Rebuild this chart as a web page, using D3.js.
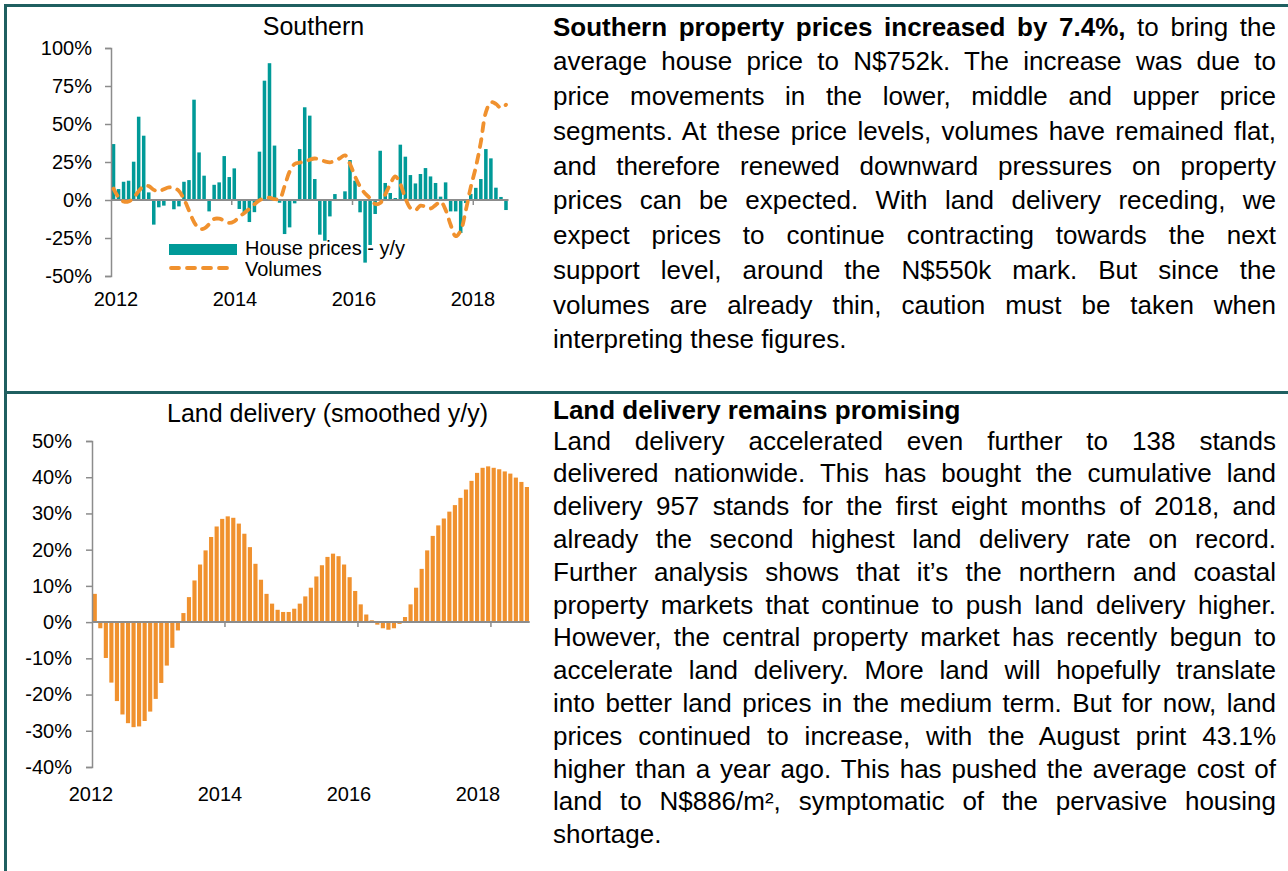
<!DOCTYPE html>
<html>
<head>
<meta charset="utf-8">
<script src="https://cdn.jsdelivr.net/npm/d3@7"></script>
<style>
  body { margin: 0; background: #fff; font-family: Arial, "Liberation Sans", sans-serif; }
  #page { position: relative; width: 1288px; height: 871px; overflow: hidden; background: #fff; }
  #page svg { position: absolute; left: 0; top: 0; }
  .line { position: absolute; left: 553px; width: 723px; font-size: 26px; line-height: 34px;
          white-space: nowrap; text-align: justify; text-align-last: justify; color: #000; }
  .line.last { text-align-last: left; }
</style>
</head>
<body>
<div id="page"></div>
<script>
// ---- data (monthly, Jan 2012 .. Jul 2018) ----
const months = d3.timeMonth.range(new Date(2012, 0, 1), new Date(2018, 7, 1));
const yearTicks = ['2012', '2014', '2016', '2018'];

// Southern house prices y/y, %
const housePrices = [36.8, 7.2, 12.0, 12.7, 25.2, 54.8, 42.3, 5.0, -16.2, -4.8, -3.7, 0.3,
  -6.1, -4.2, 12.0, 13.1, 66.0, 31.3, 16.0, -7.5, 10.0, 11.6, 28.9, 15.1,
  20.8, -5.9, -8.6, -14.5, -8.0, 31.8, 78.5, 90.0, 35.8, -1.8, -22.4, -18.0,
  -2.2, 33.5, 61.0, 55.5, 13.8, -22.8, -26.8, -10.8, 3.9, 0.3, 5.7, 26.3,
  12.7, -8.1, -41.2, -29.6, -9.2, 32.4, 11.2, 4.6, 1.3, 36.4, 28.5, 16.4,
  10.9, 17.1, 21.0, 15.5, 11.2, 2.2, 11.6, -7.5, -7.5, -21.7, -2.0, 4.0,
  8.0, 13.8, 33.5, 27.4, 8.1, 2.0, -6.6];

// Southern volumes y/y, %
const volumes = [7.5, 1.8, -1.0, -1.0, 1.5, 5.8, 9.1, 9.1, 6.7, 5.6, 7.1, 8.3,
  8.1, 5.9, 0.6, -7.0, -14.5, -18.8, -18.8, -15.9, -12.5, -12.3, -13.6, -15.1,
  -14.0, -11.0, -8.5, -5.7, -2.8, -0.2, 1.1, 1.5, 0.6, 0.7, 9.1, 18.7,
  23.7, 24.6, 25.0, 26.5, 27.3, 26.6, 25.4, 24.8, 25.9, 27.5, 29.4, 23.7,
  15.5, 8.8, 4.2, 1.1, -2.6, -2.0, 3.6, 10.5, 15.5, 10.5, 1.2, -5.3,
  -6.7, -3.7, -4.4, -5.6, -3.4, -1.0, -6.5, -16.3, -23.8, -20.1, -7.0, 8.5,
  21.5, 38.0, 57.7, 64.3, 63.2, 60.5, 62.7];

// Land delivery, smoothed y/y, %
const landDelivery = [7.8, -1.7, -9.9, -16.7, -21.8, -25.5, -27.9, -29.0, -28.8, -27.3, -24.7, -21.2,
  -16.8, -12.0, -7.1, -2.3, 2.5, 6.9, 11.5, 15.9, 19.8, 23.5, 26.4, 28.5,
  29.2, 28.8, 27.2, 24.4, 20.7, 16.1, 11.7, 7.8, 5.1, 3.4, 2.8, 2.8,
  3.7, 5.1, 7.1, 9.5, 12.6, 15.7, 18.0, 18.9, 18.2, 15.9, 12.4, 8.6,
  4.9, 2.1, 0.5, -0.7, -1.7, -2.1, -1.7, -0.5, 1.4, 4.9, 9.5, 14.7,
  19.8, 23.8, 26.7, 28.6, 30.5, 32.3, 34.3, 36.6, 39.0, 41.2, 42.6, 43.0,
  42.6, 42.2, 41.6, 41.0, 39.9, 38.7, 37.3];

const topTicksY = [-50, -25, 0, 25, 50, 75, 100];
const bottomTicksY = [-40, -30, -20, -10, 0, 10, 20, 30, 40, 50];

const topText = [
  ['<b>Southern property prices increased by 7.4%,</b> to bring the', false],
  ['average house price to N$752k. The increase was due to', false],
  ['price movements in the lower, middle and upper price', false],
  ['segments. At these price levels, volumes have remained flat,', false],
  ['and therefore renewed downward pressures on property', false],
  ['prices can be expected. With land delivery receding, we', false],
  ['expect prices to continue contracting towards the next', false],
  ['support level, around the N$550k mark. But since the', false],
  ['volumes are already thin, caution must be taken when', false],
  ['interpreting these figures.', true]
];
const bottomText = [
  ['Land delivery accelerated even further to 138 stands', false],
  ['delivered nationwide. This has bought the cumulative land', false],
  ['delivery 957 stands for the first eight months of 2018, and', false],
  ['already the second highest land delivery rate on record.', false],
  ['Further analysis shows that it\u2019s the northern and coastal', false],
  ['property markets that continue to push land delivery higher.', false],
  ['However, the central property market has recently begun to', false],
  ['accelerate land delivery. More land will hopefully translate', false],
  ['into better land prices in the medium term. But for now, land', false],
  ['prices continued to increase, with the August print 43.1%', false],
  ['higher than a year ago. This has pushed the average cost of', false],
  ['land to N$886/m\u00b2, symptomatic of the pervasive housing', false],
  ['shortage.', true]
];

const TEAL = '#009a98';
const ORANGE = '#f0912e';
const BORDER = '#1f5f60';
const AXIS = '#8c8c8c';

const page = d3.select('#page');
const svg = page.append('svg').attr('width', 1288).attr('height', 871);

// frame lines
svg.append('rect').attr('x', 4).attr('y', 4).attr('width', 1284).attr('height', 3).attr('fill', BORDER);
svg.append('rect').attr('x', 4).attr('y', 4).attr('width', 3).attr('height', 867).attr('fill', BORDER);
svg.append('rect').attr('x', 4).attr('y', 391).attr('width', 1284).attr('height', 3).attr('fill', BORDER);

function drawPanel(opt) {
  const g = svg.append('g');
  const x = d3.scaleBand().domain(months).range(opt.xRange)
    .paddingInner(opt.pad).paddingOuter(opt.pad / 2);
  const y = d3.scaleLinear().domain(opt.yDomain).range(opt.yRange);
  const cx = m => x(m) + x.bandwidth() / 2;
  const edge = m => cx(m) - x.step() / 2;

  // title
  g.append('text').attr('x', opt.titleX).attr('y', opt.titleY)
    .attr('text-anchor', 'middle').attr('font-size', 25).attr('fill', '#000').text(opt.title);

  // bars
  g.append('g').selectAll('rect').data(opt.bars).enter().append('rect')
    .attr('x', (d, i) => x(months[i]))
    .attr('y', d => y(Math.max(0, d)))
    .attr('width', x.bandwidth())
    .attr('height', d => Math.abs(y(d) - y(0)))
    .attr('fill', opt.barColor);

  // y axis
  const ya = g.append('g').attr('transform', `translate(${opt.xRange[0]},0)`)
    .call(d3.axisLeft(y).tickValues(opt.yTicks).tickFormat(d => d + '%')
      .tickSize(6).tickPadding(opt.tickPad));
  ya.select('.domain').attr('stroke', AXIS).attr('stroke-width', 1.5);
  ya.selectAll('.tick line').attr('stroke', AXIS).attr('stroke-width', 1.5);
  ya.selectAll('.tick text').attr('font-size', 20).attr('font-family', 'Arial, "Liberation Sans", sans-serif').attr('fill', '#000');

  // zero line + year ticks
  g.append('line').attr('x1', opt.xRange[0]).attr('x2', opt.xRange[1])
    .attr('y1', y(0)).attr('y2', y(0)).attr('stroke', AXIS).attr('stroke-width', 2);
  const tickMonths = yearTicks.map(t => new Date(+t, 0, 1));
  g.append('g').selectAll('line').data(tickMonths.slice(1)).enter().append('line')
    .attr('x1', m => edge(m)).attr('x2', m => edge(m))
    .attr('y1', y(0)).attr('y2', y(0) + 5).attr('stroke', AXIS).attr('stroke-width', 1.5);

  const lx = d3.scalePoint().domain(yearTicks).range(opt.labelRange);
  g.append('g').selectAll('text').data(yearTicks).enter().append('text')
    .attr('x', d => lx(d)).attr('y', opt.labelY).attr('text-anchor', 'middle')
    .attr('font-size', 20).attr('fill', '#000').text(d => d);

  return { x, y, cx, g };
}

// ---- Southern panel ----
const p1 = drawPanel({
  xRange: [111, 508.5], yRange: [276, 48], yDomain: [-50, 100], yTicks: topTicksY,
  pad: 0.3, bars: housePrices, barColor: TEAL, tickPad: 13,
  title: 'Southern', titleX: 313.5, titleY: 35,
  labelRange: [116, 473], labelY: 306
});

p1.g.append('path').datum(volumes)
  .attr('d', d3.line().x((d, i) => p1.cx(months[i])).y(d => p1.y(d)).curve(d3.curveCatmullRom.alpha(0.5)))
  .attr('fill', 'none').attr('stroke', ORANGE).attr('stroke-width', 3.8)
  .attr('stroke-dasharray', '8,8').attr('stroke-linecap', 'round');

// legend
const leg = p1.g.append('g');
leg.append('rect').attr('x', 169).attr('y', 244).attr('width', 68).attr('height', 11).attr('fill', TEAL);
leg.append('text').attr('x', 245).attr('y', 255).attr('font-size', 20).text('House prices - y/y');
leg.append('line').attr('x1', 171).attr('x2', 235).attr('y1', 268).attr('y2', 268)
  .attr('stroke', ORANGE).attr('stroke-width', 3.8).attr('stroke-dasharray', '8,8').attr('stroke-linecap', 'round');
leg.append('text').attr('x', 245).attr('y', 276).attr('font-size', 20).text('Volumes');

// ---- Land delivery panel ----
drawPanel({
  xRange: [92, 529.7], yRange: [767, 441], yDomain: [-40, 50], yTicks: bottomTicksY,
  pad: 0.25, bars: landDelivery, barColor: ORANGE, tickPad: 14,
  title: 'Land delivery (smoothed y/y)', titleX: 327.5, titleY: 422,
  labelRange: [91, 478], labelY: 801
});

// ---- commentary ----
function writeBlock(lines, top, step) {
  page.selectAll(null).data(lines).enter().append('div')
    .attr('class', d => 'line' + (d[1] ? ' last' : ''))
    .style('top', (d, i) => (top + i * step) + 'px')
    .style('line-height', step + 'px')
    .html(d => d[0]);
}
writeBlock(topText, 27 - 17.4, 34.75);
page.append('div').attr('class', 'line last').style('top', (410 - 17) + 'px')
  .html('<b>Land delivery remains promising</b>');
writeBlock(bottomText, 441 - 16.4, 32.8);
</script>
</body>
</html>
